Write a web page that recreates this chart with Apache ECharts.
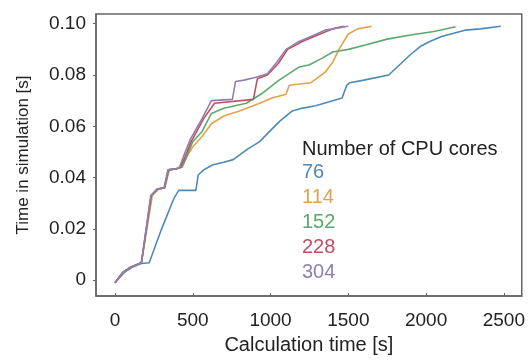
<!DOCTYPE html>
<html>
<head>
<meta charset="utf-8">
<script src="https://cdn.jsdelivr.net/npm/echarts@6/dist/echarts.min.js"></script>
<style>
html,body{margin:0;padding:0;background:#fff;}
#chart{width:528px;height:360px;}
</style>
</head>
<body>
<div id="chart"></div>
<script>
// Data
const coreCounts = ['76', '114', '152', '228', '304'];
const xTicks = [0, 500, 1000, 1500, 2000, 2500];
const yTicks = [0, 0.02, 0.04, 0.06, 0.08, 0.10];

const t76 = [0, 60, 110, 170, 220, 300, 380, 410, 520, 535, 570, 630, 700, 760, 850, 930, 1010, 1060, 1140, 1200, 1290, 1400, 1460, 1490, 1510, 1600, 1760, 1830, 1900, 1960, 2020, 2100, 2250, 2350, 2480];
const v76 = [-0.001, 0.003, 0.005, 0.0065, 0.0068, 0.02, 0.032, 0.035, 0.035, 0.041, 0.043, 0.045, 0.046, 0.047, 0.051, 0.054, 0.059, 0.062, 0.066, 0.067, 0.068, 0.070, 0.071, 0.076, 0.077, 0.078, 0.080, 0.084, 0.088, 0.091, 0.093, 0.095, 0.0975, 0.098, 0.099];

const t114 = [0, 50, 100, 170, 240, 280, 320, 350, 400, 430, 460, 500, 560, 620, 700, 800, 930, 1010, 1100, 1120, 1260, 1350, 1400, 1440, 1500, 1560, 1650];
const v114 = [-0.001, 0.003, 0.005, 0.0068, 0.033, 0.0355, 0.036, 0.043, 0.0435, 0.044, 0.048, 0.052, 0.056, 0.061, 0.064, 0.066, 0.069, 0.071, 0.0725, 0.076, 0.077, 0.081, 0.085, 0.090, 0.096, 0.098, 0.099];

const t152 = [0, 50, 100, 170, 235, 275, 320, 345, 400, 430, 460, 500, 560, 620, 700, 844, 950, 1055, 1180, 1250, 1330, 1400, 1500, 1610, 1750, 1890, 2050, 2190];
const v152 = [-0.001, 0.003, 0.005, 0.0068, 0.033, 0.0355, 0.036, 0.043, 0.0435, 0.044, 0.048, 0.054, 0.058, 0.065, 0.067, 0.069, 0.073, 0.078, 0.083, 0.084, 0.0865, 0.089, 0.090, 0.0917, 0.094, 0.0955, 0.097, 0.0988];

const t228 = [0, 50, 100, 170, 232, 272, 318, 342, 400, 420, 450, 490, 570, 640, 890, 915, 980, 1050, 1110, 1200, 1300, 1400, 1470];
const v228 = [-0.001, 0.003, 0.005, 0.0068, 0.033, 0.0355, 0.036, 0.043, 0.0435, 0.044, 0.048, 0.054, 0.063, 0.069, 0.0705, 0.0785, 0.080, 0.0845, 0.090, 0.093, 0.0955, 0.098, 0.099];

const t304 = [0, 50, 100, 170, 230, 270, 315, 340, 395, 415, 445, 485, 560, 620, 755, 775, 830, 900, 980, 1040, 1100, 1180, 1260, 1350, 1500];
const v304 = [-0.001, 0.003, 0.005, 0.0068, 0.033, 0.0355, 0.036, 0.043, 0.0435, 0.044, 0.049, 0.055, 0.063, 0.070, 0.0705, 0.0775, 0.078, 0.079, 0.0805, 0.085, 0.090, 0.093, 0.095, 0.0975, 0.099];

const colors = ['#4f8ab5', '#e3a24c', '#5ca96c', '#c04f62', '#8f7fae'];
const seriesT = [t76, t114, t152, t228, t304];
const seriesV = [v76, v114, v152, v228, v304];

const FONT = 'Liberation Sans, Arial, sans-serif';
const chart = echarts.init(document.getElementById('chart'), null, {renderer: 'canvas'});

const series = coreCounts.map((name, i) => ({
  name: name,
  type: 'line',
  showSymbol: false,
  symbol: 'none',
  data: seriesT[i].map((t, k) => [t, seriesV[i][k]]),
  lineStyle: {width: 1.6, color: colors[i]},
  itemStyle: {color: colors[i]},
  animation: false
}));

chart.setOption({
  animation: false,
  grid: {left: 96, right: 5, top: 14, bottom: 60, show: true, borderColor: '#666', borderWidth: 1.5, backgroundColor: '#fff'},
  title: {
    text: 'Number of CPU cores', left: 297, top: 134,
    textStyle: {fontFamily: FONT, fontSize: 20, fontWeight: 'normal', color: '#222'}
  },
  legend: {
    orient: 'vertical', left: 292, top: 157, icon: 'none', itemWidth: 0, itemHeight: 10, itemGap: 5,
    selectedMode: false,
    textStyle: {fontFamily: FONT, fontSize: 20, lineHeight: 20},
    data: coreCounts.map((n, i) => ({name: n, textStyle: {color: colors[i]}}))
  },
  xAxis: {
    type: 'value', min: -122, max: 2615,
    splitLine: {show: false},
    axisLine: {show: true, onZero: false, lineStyle: {color: '#666', width: 1.5}},
    axisTick: {show: true, inside: true, length: 3, customValues: xTicks, lineStyle: {color: '#666'}},
    axisLabel: {customValues: xTicks, margin: 15, fontFamily: FONT, fontSize: 19, color: '#222',
      formatter: v => String(v)},
    name: 'Calculation time [s]', nameLocation: 'middle', nameGap: 39,
    nameTextStyle: {fontFamily: FONT, fontSize: 20, color: '#222'}
  },
  yAxis: {
    type: 'value', min: -0.0062, max: 0.1038,
    splitLine: {show: false},
    axisLine: {show: true, onZero: false, lineStyle: {color: '#666', width: 1.5}},
    axisTick: {show: true, inside: false, length: 3, customValues: yTicks, lineStyle: {color: '#666'}},
    axisLabel: {customValues: yTicks, margin: 10, fontFamily: FONT, fontSize: 19, color: '#222',
      formatter: v => (Math.abs(v) < 1e-9 ? '0' : v.toFixed(2))},
    name: 'Time in simulation [s]', nameLocation: 'middle', nameGap: 64,
    nameTextStyle: {fontFamily: FONT, fontSize: 17, color: '#222'}
  },
  series: series
});
</script>
</body>
</html>
